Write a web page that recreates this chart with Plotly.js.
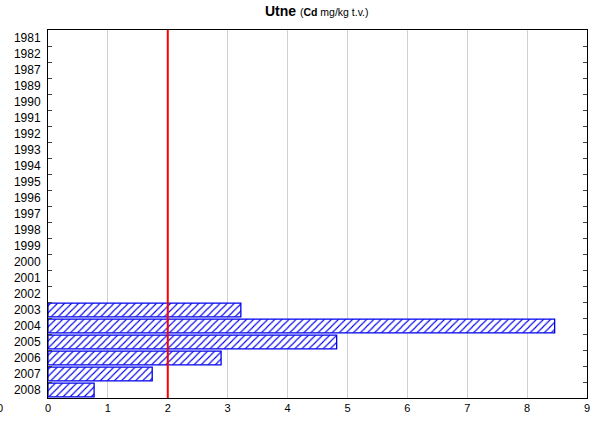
<!DOCTYPE html>
<html><head><meta charset="utf-8">
<script src="https://cdn.plot.ly/plotly-3.0.1.min.js"></script>
<style>html,body{margin:0;padding:0;background:#fff}#c{width:592px;height:423px}</style>
</head><body><div id="c"></div>
<script>
var years = ["1981","1982","1987","1989","1990","1991","1992","1993","1994","1995","1996","1997","1998","1999","2000","2001","2002","2003","2004","2005","2006","2007","2008"];
var values = [null,null,null,null,null,null,null,null,null,null,null,null,null,null,null,null,null,3.22,8.46,4.82,2.89,1.74,0.77];
var limitValue = 2;
var xTicks = [0,1,2,3,4,5,6,7,8,9];

var trace = {
  type: "bar", orientation: "h", y: years, x: values, width: 0.85,
  marker: {color: "#ffffff", line: {color: "#0000ee", width: 1.3},
    pattern: {shape: "/", fgcolor: "#0000ee", bgcolor: "#ffffff", size: 5, solidity: 0.22}},
  hoverinfo: "skip"
};
var layout = {
  width: 592, height: 423,
  margin: {l: 48, r: 5, t: 30, b: 25},
  paper_bgcolor: "#fff", plot_bgcolor: "#fff",
  font: {family: "Liberation Sans, Arial, sans-serif", size: 12, color: "#000"},
  title: {text: "<b>Utne</b> <span style='font-size:10.5px'>(<b>Cd</b> mg/kg t.v.)</span>", font: {size: 14}, x: 0.535, xanchor: "center", y: 0.985, yanchor: "top"},
  showlegend: false,
  xaxis: {range: [0, 9], tickvals: xTicks, ticktext: xTicks.map(String), showgrid: true, gridcolor: "#d0d0d0", gridwidth: 1,
    zeroline: false, showline: true, linecolor: "#000", linewidth: 1, mirror: "ticks", ticks: "inside", ticklen: 0,
    tickfont: {size: 11}},
  yaxis: {type: "category", categoryorder: "array", categoryarray: years, autorange: "reversed",
    showline: true, linecolor: "#000", linewidth: 1, mirror: "ticks", ticks: "inside", ticklen: 4, tickson: "boundaries",
    showgrid: false, tickfont: {size: 12}, ticklabelstandoff: 4},
  shapes: [{type: "line", xref: "x", yref: "paper", x0: limitValue, x1: limitValue, y0: 0, y1: 1, line: {color: "#ff0000", width: 2}}],
  annotations: [{text: "0", xref: "paper", yref: "paper", x: 0, y: 0, xshift: -48, yshift: -10, showarrow: false, xanchor: "center", yanchor: "middle", font: {size: 11}}]
};
Plotly.newPlot("c", [trace], layout, {displayModeBar: false, staticPlot: true});
</script></body></html>
